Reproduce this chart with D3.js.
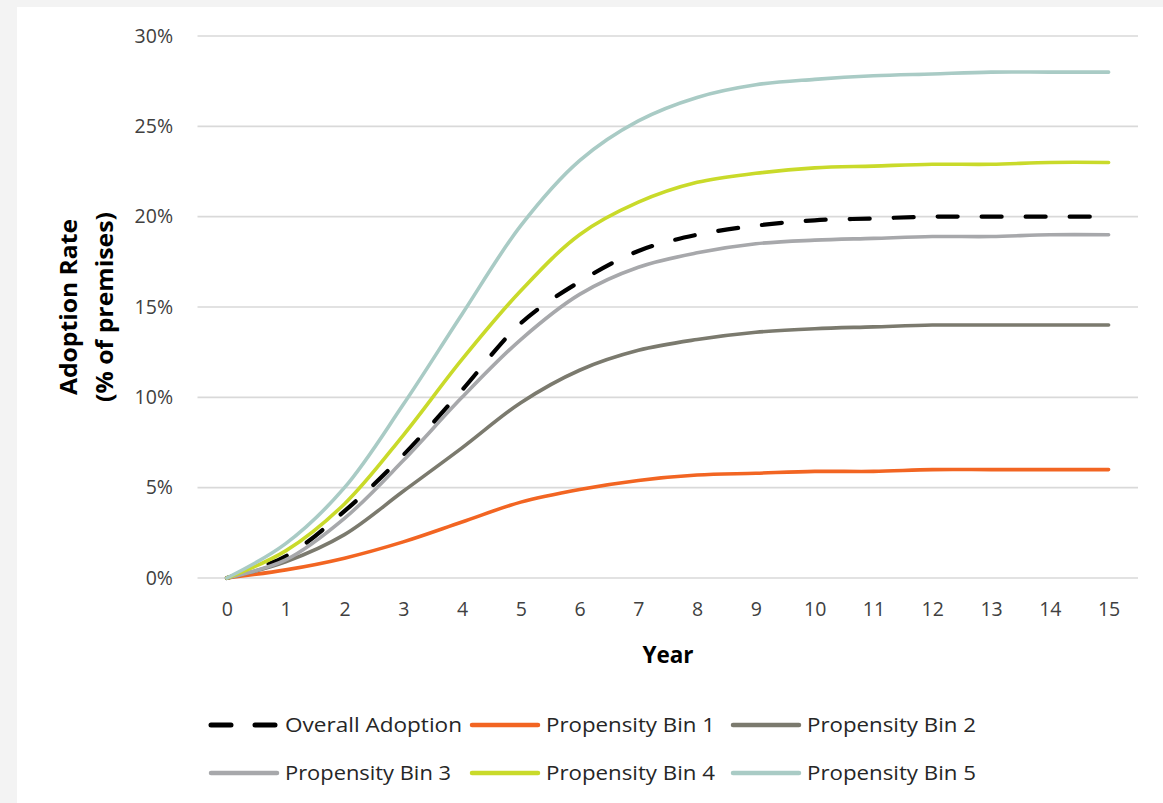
<!DOCTYPE html>
<html><head><meta charset="utf-8">
<script src="https://cdn.jsdelivr.net/npm/d3@7"></script>
<style>
html,body{margin:0;padding:0;background:#f3f3f3;}
svg{display:block;}
</style></head>
<body>
<svg id="c" width="1163" height="803"></svg>
<script>
const years = [0,1,2,3,4,5,6,7,8,9,10,11,12,13,14,15];
const yTicks = [0,5,10,15,20,25,30];
const seriesNames = ["Overall Adoption","Propensity Bin 1","Propensity Bin 2","Propensity Bin 3","Propensity Bin 4","Propensity Bin 5"];
const overall = [0,1.2,3.7,6.8,10.4,14.1,16.4,18.1,19.0,19.5,19.8,19.9,20.0,20.0,20.0,20.0];
const bin1 = [0,0.45,1.1,2.0,3.1,4.2,4.9,5.4,5.7,5.8,5.9,5.9,6.0,6.0,6.0,6.0];
const bin2 = [0,0.9,2.4,4.8,7.2,9.7,11.5,12.6,13.2,13.6,13.8,13.9,14.0,14.0,14.0,14.0];
const bin3 = [0,1.0,3.3,6.5,10.0,13.2,15.7,17.2,18.0,18.5,18.7,18.8,18.9,18.9,19.0,19.0];
const bin4 = [0,1.5,4.1,7.9,12.1,15.9,19.0,20.8,21.9,22.4,22.7,22.8,22.9,22.9,23.0,23.0];
const bin5 = [0,1.9,5.0,9.6,14.6,19.5,23.1,25.3,26.6,27.3,27.6,27.8,27.9,28.0,28.0,28.0];
const colors = ["#000000","#F26522","#7B7A6E","#A7A8AB","#C9DA2A","#A9CBC5"];

const allSeries = [overall,bin1,bin2,bin3,bin4,bin5];
const svg = d3.select("#c");
svg.append("rect").attr("x",17).attr("y",7).attr("width",1146).attr("height",796).attr("fill","#ffffff");

const x = d3.scalePoint().domain(years).range([197.5,1138]).padding(0.5);
const y = d3.scaleLinear().domain([0,30]).range([578,36]);
const font = "'Open Sans', 'Noto Sans', sans-serif";

// gridlines
const grid = svg.append("g");
grid.selectAll("line").data(yTicks).join("line")
  .attr("x1",197.5).attr("x2",1138)
  .attr("y1",d=>y(d)).attr("y2",d=>y(d))
  .attr("stroke","#d9d9d9").attr("stroke-width",1.6);

// y axis labels
const yAxis = svg.append("g").attr("transform","translate(190,0)")
  .call(d3.axisLeft(y).tickValues(yTicks).tickFormat(d=>d+"%").tickSize(0).tickPadding(17));
yAxis.select(".domain").remove();
yAxis.selectAll("text").attr("font-family",font).attr("font-size",19.5).attr("fill","#404040");

// x axis labels
const xAxis = svg.append("g").attr("transform","translate(0,578)")
  .call(d3.axisBottom(x).tickSize(0).tickPadding(24));
xAxis.select(".domain").remove();
xAxis.selectAll("text").attr("font-family",font).attr("font-size",19.5).attr("fill","#404040");

// titles
svg.append("text").attr("x",668).attr("y",663).attr("text-anchor","middle")
  .attr("font-family",font).attr("font-weight","bold").attr("font-size",22.5).attr("fill","#000")
  .text("Year");
const yt = svg.append("text").attr("transform","translate(0,307) rotate(-90)")
  .attr("text-anchor","middle").attr("font-family",font).attr("font-weight","bold")
  .attr("font-size",23.5).attr("fill","#000");
yt.append("tspan").attr("x",0).attr("y",77).attr("textLength",176).attr("lengthAdjust","spacingAndGlyphs").text("Adoption Rate");
yt.append("tspan").attr("x",0).attr("y",113).attr("textLength",190).attr("lengthAdjust","spacingAndGlyphs").text("(% of premises)");

// lines
const line = d3.line().x((d,i)=>x(years[i])).y(d=>y(d)).curve(d3.curveCatmullRom.alpha(0.5));
const lg = svg.append("g");
allSeries.forEach((s,i)=>{
  lg.append("path").attr("d",line(s)).attr("fill","none")
    .attr("stroke",colors[i]).attr("stroke-width",i===0?4.2:3.6)
    .attr("stroke-linecap","round").attr("stroke-linejoin","round")
    .attr("stroke-dasharray",i===0?"20 24":null);
});

// legend
const legX = [209,470,731];
const legY = [725,773];
const leg = svg.append("g");
seriesNames.forEach((n,i)=>{
  const col = i%3, row = Math.floor(i/3);
  const g = leg.append("g").attr("transform",`translate(${legX[col]},${legY[row]})`);
  g.append("line").attr("x1",2).attr("x2",68).attr("y1",0).attr("y2",0)
    .attr("stroke",colors[i]).attr("stroke-width",i===0?5:4.5)
    .attr("stroke-linecap","round")
    .attr("stroke-dasharray",i===0?"20 24":null);
  g.append("text").attr("x",76).attr("y",0).attr("dy","0.35em")
    .attr("font-family",font).attr("font-size",20).attr("fill","#262626")
    .attr("textLength", n==="Overall Adoption"?177:(n.endsWith("3")?166:169))
    .attr("lengthAdjust","spacingAndGlyphs")
    .text(n);
});
</script>
</body></html>
